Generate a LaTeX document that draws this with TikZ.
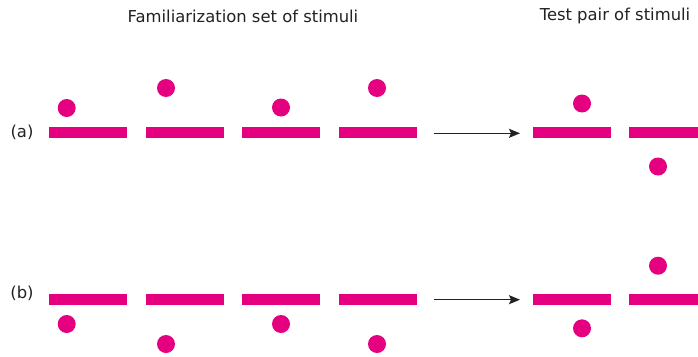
\documentclass[tikz,border=0pt]{standalone}
\usepackage{fontspec}
\setmainfont{DejaVu Sans}
\usetikzlibrary{arrows.meta}
\definecolor{stim}{HTML}{E4007F}
\definecolor{txt}{HTML}{222222}
\tikzset{
  bar/.style={rectangle, fill=stim, inner sep=0pt, minimum width=78pt, minimum height=11pt, anchor=west},
  dot/.style={circle, fill=stim, inner sep=0pt, minimum size=18pt},
  lbl/.style={font=\fontsize{16.4}{19}\selectfont, text=txt, inner sep=0pt},
  arr/.style={-{Stealth[length=11pt,width=9pt,inset=2pt]}, line width=1.2pt, draw=txt}
}
\begin{document}
\begin{tikzpicture}[x=1pt,y=-1pt]
\useasboundingbox (0,0) rectangle (698,356);
% titles
\node[lbl] (t1) at (243,16) {Familiarization set of stimuli};
\node[lbl] (t2) at (615,16) {Test pair of stimuli};
% row a
\node[lbl] (la) at (22,132) {(a)};
\node[bar] (a1) at (49,132.5) {};
\node[bar] (a2) at (145.5,132.5) {};
\node[bar] (a3) at (242,132.5) {};
\node[bar] (a4) at (339,132.5) {};
\node[bar] (a5) at (532.5,132.5) {};
\node[bar, minimum width=69pt] (a6) at (629,132.5) {};
\node[dot] (da1) at (66.7,108) {};
\node[dot] (da2) at (166,88) {};
\node[dot] (da3) at (281,107.5) {};
\node[dot] (da4) at (377,88) {};
\node[dot] (da5) at (582,103.5) {};
\node[dot] (da6) at (658,166.5) {};
\coordinate (sa) at (434,133.3);
\coordinate (ea) at (520,133.3);
\draw[arr] (sa) -- (ea);
% row b
\node[lbl] (lb) at (22,293) {(b)};
\node[bar] (b1) at (49,299.3) {};
\node[bar] (b2) at (145.5,299.3) {};
\node[bar] (b3) at (242,299.3) {};
\node[bar] (b4) at (339,299.3) {};
\node[bar] (b5) at (532.5,299.3) {};
\node[bar, minimum width=69pt] (b6) at (629,299.3) {};
\node[dot] (db1) at (66.7,324) {};
\node[dot] (db2) at (166,344) {};
\node[dot] (db3) at (281,324) {};
\node[dot] (db4) at (377,344) {};
\node[dot] (db5) at (582,328.3) {};
\node[dot] (db6) at (658,265.7) {};
\coordinate (sb) at (434,299.7);
\coordinate (eb) at (520,299.7);
\draw[arr] (sb) -- (eb);
\end{tikzpicture}
\end{document}
